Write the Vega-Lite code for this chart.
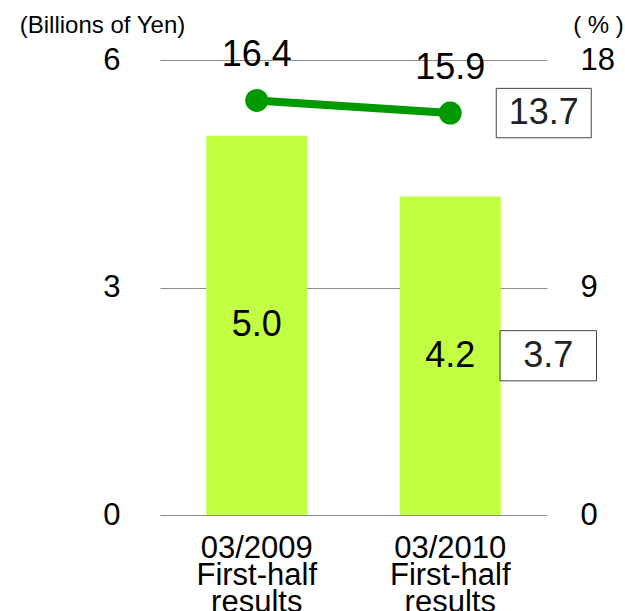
{
  "$schema": "https://vega.github.io/schema/vega-lite/v6.json",
  "width": 387,
  "height": 455,
  "autosize": {"type": "none"},
  "padding": {"left": 160, "top": 60, "right": 78, "bottom": 96},
  "config": {
    "view": {"stroke": null},
    "font": "Liberation Sans",
    "text": {"font": "Liberation Sans"},
    "axis": {"labelFont": "Liberation Sans", "titleFont": "Liberation Sans", "labelColor": "#000", "titleColor": "#000"}
  },
  "data": {
    "values": [
      {"period": "03/2009", "income": 5.0, "margin": 16.4},
      {"period": "03/2010", "income": 4.2, "margin": 15.9, "fc_income": 3.7, "fc_margin": 13.7}
    ]
  },
  "transform": [{"calculate": "datum.income / 2", "as": "mid"}],
  "encoding": {
    "x": {
      "field": "period",
      "type": "nominal",
      "sort": null,
      "scale": {"paddingInner": 0.478, "paddingOuter": 0.239},
      "axis": {
        "title": null,
        "domain": false,
        "ticks": false,
        "tickSize": 0,
        "labelAngle": 0,
        "labelFontSize": 31,
        "labelLineHeight": 27,
        "labelPadding": 42,
        "labelBaseline": "alphabetic",
        "labelExpr": "[datum.label, 'First-half', 'results']"
      }
    }
  },
  "layer": [
    {
      "layer": [
        {
          "mark": {"type": "bar", "color": "#C2FF42"},
          "encoding": {
            "y": {
              "field": "income",
              "type": "quantitative",
              "scale": {"domain": [0, 6], "nice": false},
              "axis": {
                "orient": "left",
                "values": [0, 3, 6],
                "format": "d",
                "grid": true,
                "gridColor": "#8c8c8c",
                "gridWidth": 1,
                "domain": false,
                "ticks": false,
                "tickSize": 0,
                "labelFontSize": 31,
                "labelPadding": 40,
                "title": "(Billions of Yen)",
                "titleAngle": 0,
                "titleAlign": "center",
                "titleBaseline": "middle",
                "titleFontSize": 24,
                "titleFontWeight": "normal",
                "titleX": -58,
                "titleY": -35
              }
            }
          }
        },
        {
          "mark": {"type": "text", "fontSize": 36, "baseline": "middle", "color": "#000"},
          "encoding": {
            "y": {"field": "mid", "type": "quantitative"},
            "text": {"field": "income", "type": "quantitative", "format": ".1f"}
          }
        },
        {
          "transform": [{"filter": "isValid(datum.fc_income)"}],
          "mark": {"type": "point", "shape": "M-1,-0.52H1V0.52H-1Z", "size": 9312, "filled": false, "stroke": "#444", "strokeWidth": 1, "opacity": 1, "xOffset": 98},
          "encoding": {"y": {"field": "mid", "type": "quantitative"}}
        },
        {
          "transform": [{"filter": "isValid(datum.fc_income)"}],
          "mark": {"type": "text", "fontSize": 36, "baseline": "middle", "dx": 98, "color": "#222"},
          "encoding": {
            "y": {"field": "mid", "type": "quantitative"},
            "text": {"field": "fc_income", "type": "quantitative", "format": ".1f"}
          }
        }
      ]
    },
    {
      "layer": [
        {
          "mark": {"type": "line", "color": "#009900", "strokeWidth": 8},
          "encoding": {
            "y": {
              "field": "margin",
              "type": "quantitative",
              "scale": {"domain": [0, 18], "nice": false},
              "axis": {
                "orient": "right",
                "values": [0, 9, 18],
                "format": "d",
                "grid": false,
                "domain": false,
                "ticks": false,
                "tickSize": 0,
                "labelFontSize": 31,
                "labelPadding": 33,
                "title": "( % )",
                "titleAngle": 0,
                "titleAlign": "center",
                "titleBaseline": "middle",
                "titleFontSize": 24,
                "titleFontWeight": "normal",
                "titleX": 51,
                "titleY": -35
              }
            }
          }
        },
        {
          "mark": {"type": "circle", "color": "#009900", "size": 530, "opacity": 1},
          "encoding": {"y": {"field": "margin", "type": "quantitative"}}
        },
        {
          "mark": {"type": "text", "fontSize": 36, "baseline": "alphabetic", "dy": -34, "color": "#000"},
          "encoding": {
            "y": {"field": "margin", "type": "quantitative"},
            "text": {"field": "margin", "type": "quantitative", "format": ".1f"}
          }
        },
        {
          "transform": [{"filter": "isValid(datum.fc_margin)"}],
          "mark": {"type": "point", "shape": "M-1,-0.52H1V0.52H-1Z", "size": 9025, "filled": false, "stroke": "#444", "strokeWidth": 1, "opacity": 1, "xOffset": 93.5},
          "encoding": {"y": {"field": "margin", "type": "quantitative"}}
        },
        {
          "transform": [{"filter": "isValid(datum.fc_margin)"}],
          "mark": {"type": "text", "fontSize": 36, "baseline": "middle", "dx": 93.5, "color": "#222"},
          "encoding": {
            "y": {"field": "margin", "type": "quantitative"},
            "text": {"field": "fc_margin", "type": "quantitative", "format": ".1f"}
          }
        }
      ]
    }
  ],
  "resolve": {"scale": {"y": "independent"}}
}
